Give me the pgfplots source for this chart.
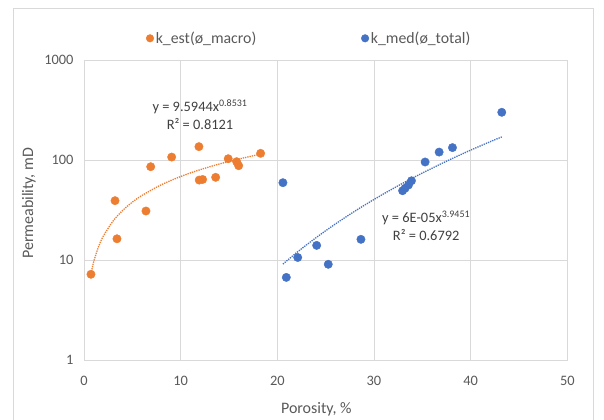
\documentclass[border=0pt]{standalone}
\usepackage{fontspec}
\setmainfont{Carlito}
\usepackage{pgfplots}
\pgfplotsset{compat=1.18}
\definecolor{cOr}{HTML}{ED7D31}
\definecolor{cBl}{HTML}{4472C4}
\definecolor{cGrid}{HTML}{D9D9D9}
\definecolor{cTxt}{HTML}{595959}
\definecolor{cEq}{HTML}{404040}
\begin{document}
\begin{tikzpicture}
\begin{axis}[name=ax, scale only axis, width=483.3pt, height=300pt,
  xmin=0, xmax=50, ymode=log, ymin=1, ymax=1000,
  xtick={0,10,20,30,40,50}, ytick={1,10,100,1000}, yticklabels={1,10,100,1000},
  grid=major, major grid style={cGrid, line width=0.8pt},
  axis line style={cGrid, line width=0.8pt},
  major tick length=0pt, minor tick length=0pt, tick style={draw=none},
  /pgf/number format/assume math mode=true,
  ticklabel style={font=\fontsize{14.4}{17}\selectfont, text=cTxt},
  xticklabel style={yshift=-13pt},
  yticklabel style={xshift=-7pt},
  xlabel={Porosity, \%}, ylabel={Permeability, mD},
  label style={font=\fontsize{16}{19}\selectfont, text=cTxt},
  xlabel style={at={(axis description cs:0.4807,-0.165)}, anchor=center},
  ylabel style={at={(axis description cs:-0.114,0.522)}, anchor=center},
  legend style={at={(axis description cs:0.1283,1.0723)}, anchor=west, draw=none, fill=none, inner sep=0pt,
    font=\fontsize{15.8}{18}\selectfont, text=cTxt, legend columns=2,
    /tikz/every even column/.append style={column sep=103pt}},
  legend cell align=left,
  legend image code/.code={\draw[mark repeat=2,mark phase=2,mark size=3.8pt,#1] plot coordinates {(0pt,0pt) (3pt,0pt) (6pt,0pt)};},
  clip=false]
\addplot[cOr, densely dotted, line width=1.3pt, forget plot, smooth] coordinates {
 (0.72,7.25) (1,9.59) (1.5,13.56) (2,17.33) (3,24.49) (4,31.31) (5,37.87) (6,44.25)
 (8,56.55) (10,68.41) (12,79.92) (14,91.16) (16,102.15) (18.27,114.4)};
\addplot[cBl, densely dotted, line width=1.3pt, forget plot, smooth] coordinates {
 (20.58,9.1) (22,11.86) (24,16.7) (26,22.9) (28,30.7) (30,40.3) (32,52.0) (34,66.1)
 (36,82.7) (38,102.5) (40,125.5) (42,152.1) (43.22,170)};
\addplot[only marks, mark=*, mark size=4.2pt, color=cOr, mark options={fill=cOr, draw=cOr}] coordinates {
 (0.72,7.2) (3.21,39.2) (3.41,16.3) (6.41,30.9) (6.90,85.7) (9.07,107) (11.89,136)
 (11.92,63) (12.27,63.9) (13.62,67.1) (14.92,103) (15.79,96.2) (16.00,87.7) (18.27,116.6)};
\addlegendentry{k\_est(ø\_macro)}
\addplot[only marks, mark=*, mark size=4.2pt, color=cBl, mark options={fill=cBl, draw=cBl}] coordinates {
 (20.58,59.3) (20.93,6.7) (22.11,10.6) (24.07,14.0) (25.27,9.06) (28.65,16.1)
 (32.96,49.3) (33.22,52.2) (33.57,56.2) (33.88,62.0) (35.29,95.5) (36.74,120)
 (38.12,133) (43.22,300)};
\addlegendentry{k\_med(ø\_total)}
\node[font=\fontsize{14.4}{18}\selectfont, text=cEq, align=center] at (axis cs:12.0,282)
  {y = 9.5944x\textsuperscript{0.8531}\\R² = 0.8121};
\node[font=\fontsize{14.4}{18}\selectfont, text=cEq, align=center] at (axis cs:35.4,22)
  {y = 6E-05x\textsuperscript{3.9451}\\R² = 0.6792};
\end{axis}
\draw[cGrid, line width=0.8pt] ([xshift=-70.5pt,yshift=51.5pt]ax.north west) rectangle ([xshift=25.7pt,yshift=-80pt]ax.south east);
\pgfresetboundingbox
\path ([xshift=-84pt,yshift=-59pt]ax.south west) rectangle ([xshift=36.7pt,yshift=60pt]ax.north east);
\end{tikzpicture}
\end{document}
